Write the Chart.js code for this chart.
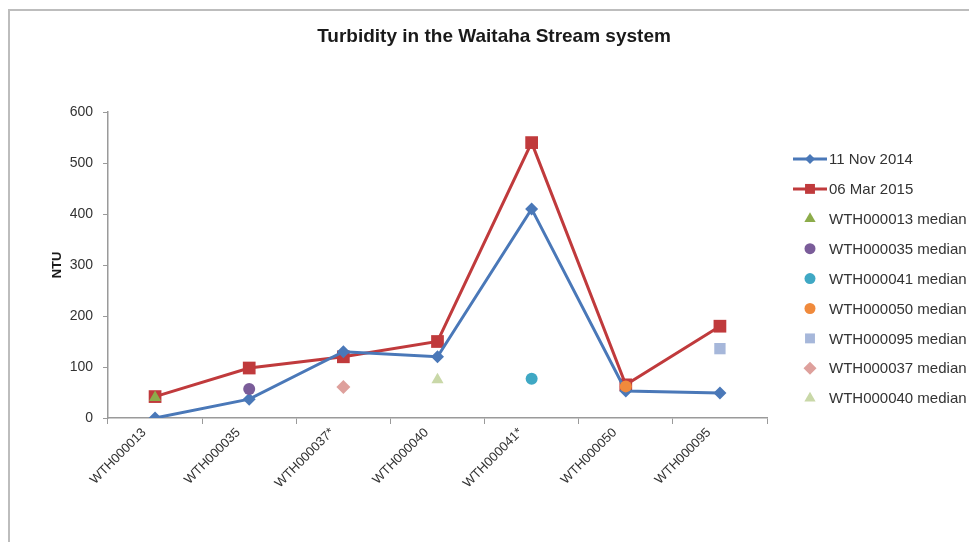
<!DOCTYPE html>
<html lang="en">
<head>
<meta charset="UTF-8">
<title>Turbidity in the Waitaha Stream system</title>
<script src="https://cdn.jsdelivr.net/npm/chart.js"></script>
<style>
  html, body { margin: 0; padding: 0; background: #fff; }
  #wrap { position: relative; width: 969px; height: 542px; }
  #frame { position: absolute; left: 8px; top: 9px; right: 0; bottom: 0;
           border-left: 2px solid #bdbdbd; border-top: 2px solid #bdbdbd; pointer-events: none; }
</style>
</head>
<body>
<div id="wrap">
  <canvas id="chart" width="969" height="542"></canvas>
  <div id="frame"></div>
</div>
<script>
// sampling sites along the stream
const sites = ['WTH000013', 'WTH000035', 'WTH000037*', 'WTH000040', 'WTH000041*', 'WTH000050', 'WTH000095'];

// turbidity (NTU) on each sampling run
const nov2014 = [0, 37, 130, 120, 410, 53, 49];
const mar2015 = [42, 98, 120, 150, 540, 65, 180];

// long-term medians, one per site
const medianSites = ['WTH000013', 'WTH000035', 'WTH000041', 'WTH000050', 'WTH000095', 'WTH000037', 'WTH000040'];
const medianValues = [40, 57, 77, 62, 136, 61, 75];
const medianColors = ['#8cac4a', '#7a5c99', '#3fa8c4', '#f08a3c', '#a6b7da', '#dea09c', '#c9d8a8'];
const medianStyles = ['triangle', 'circle', 'circle', 'circle', 'rect', 'rectRot', 'triangle'];

const yTicks = [0, 100, 200, 300, 400, 500, 600];

const TITLE = 'Turbidity in the Waitaha Stream system';
const FONT = 'Liberation Sans, Arial, sans-serif';
const TEXT = '#333333';

function siteIndex(name) {
  return sites.findIndex(s => s.replace('*', '') === name);
}

const datasets = [
  {
    label: '11 Nov 2014', data: nov2014, order: 1,
    borderColor: '#4a78b8', backgroundColor: '#4a78b8', borderWidth: 3,
    pointStyle: 'rectRot', pointRadius: 6.5, pointBorderWidth: 0, tension: 0,
    legendRadius: 5
  },
  {
    label: '06 Mar 2015', data: mar2015, order: 2,
    borderColor: '#c03a3c', backgroundColor: '#c03a3c', borderWidth: 3,
    pointStyle: 'rect', pointRadius: 9, pointBorderWidth: 0, tension: 0,
    legendRadius: 7
  }
];

medianSites.forEach((name, i) => {
  const data = sites.map(() => null);
  data[siteIndex(name)] = medianValues[i];
  const style = medianStyles[i];
  const radius = style === 'rect' ? 8 : (style === 'circle' ? 6 : 7);
  datasets.push({
    label: name + ' median', data: data, order: 0, showLine: false,
    borderColor: medianColors[i], backgroundColor: medianColors[i],
    pointStyle: style, pointRadius: radius, pointBorderWidth: 0,
    legendRadius: style === 'rect' ? 7 : (style === 'circle' ? 5.5 : 6.5)
  });
});

// title and legend drawn by hand: title centred on the whole frame,
// legend rows show line + marker together for the two runs
const decorations = {
  id: 'decorations',
  afterDraw(chart) {
    const ctx = chart.ctx;
    ctx.save();
    ctx.fillStyle = '#1a1a1a';
    ctx.font = 'bold 19px ' + FONT;
    ctx.textAlign = 'center';
    ctx.textBaseline = 'middle';
    ctx.fillText(TITLE, 494, 37);

    const x0 = 793, y0 = 159, step = 29.9;
    chart.data.datasets.forEach((ds, i) => {
      const y = y0 + i * step;
      if (ds.showLine !== false) {
        ctx.strokeStyle = ds.borderColor;
        ctx.lineWidth = 3;
        ctx.beginPath();
        ctx.moveTo(x0, y);
        ctx.lineTo(x0 + 34, y);
        ctx.stroke();
      }
      ctx.fillStyle = ds.backgroundColor;
      ctx.strokeStyle = ds.backgroundColor;
      Chart.helpers.drawPoint(ctx, {
        pointStyle: ds.pointStyle, radius: ds.legendRadius, rotation: 0, borderWidth: 0
      }, x0 + 17, y);
      ctx.fillStyle = TEXT;
      ctx.font = '15px ' + FONT;
      ctx.textBaseline = 'middle';
      ctx.textAlign = 'left';
      ctx.fillText(ds.label, x0 + 36, y + 1);
    });
    ctx.restore();
  }
};

new Chart(document.getElementById('chart'), {
  type: 'line',
  data: { labels: sites, datasets: datasets },
  plugins: [decorations],
  options: {
    responsive: false,
    animation: false,
    layout: { padding: { left: 8, right: 202, top: 112, bottom: 0 } },
    plugins: {
      legend: { display: false },
      tooltip: { enabled: false },
      title: { display: false }
    },
    scales: {
      x: {
        offset: true,
        grid: { offset: true, drawOnChartArea: false, tickLength: 6, color: '#9a9a9a' },
        border: { color: '#9a9a9a', width: 1.5 },
        ticks: {
          color: TEXT, font: { family: FONT, size: 13 },
          maxRotation: 45, minRotation: 45, padding: 1, labelOffset: -11
        },
        afterFit(scale) { scale.height = 124; }
      },
      y: {
        min: 0, max: 600,
        afterBuildTicks(scale) { scale.ticks = yTicks.map(v => ({ value: v })); },
        grid: { drawOnChartArea: false, tickLength: 5, color: '#9a9a9a' },
        border: { color: '#9a9a9a', width: 1.5 },
        ticks: { color: TEXT, font: { family: FONT, size: 14 }, padding: 10 },
        title: {
          display: true, text: 'NTU', color: '#1a1a1a',
          font: { family: FONT, size: 13, weight: 'bold' }, padding: { top: 42, bottom: 0 }
        },
        afterFit(scale) { scale.width = 100; }
      }
    }
  }
});
</script>
</body>
</html>
